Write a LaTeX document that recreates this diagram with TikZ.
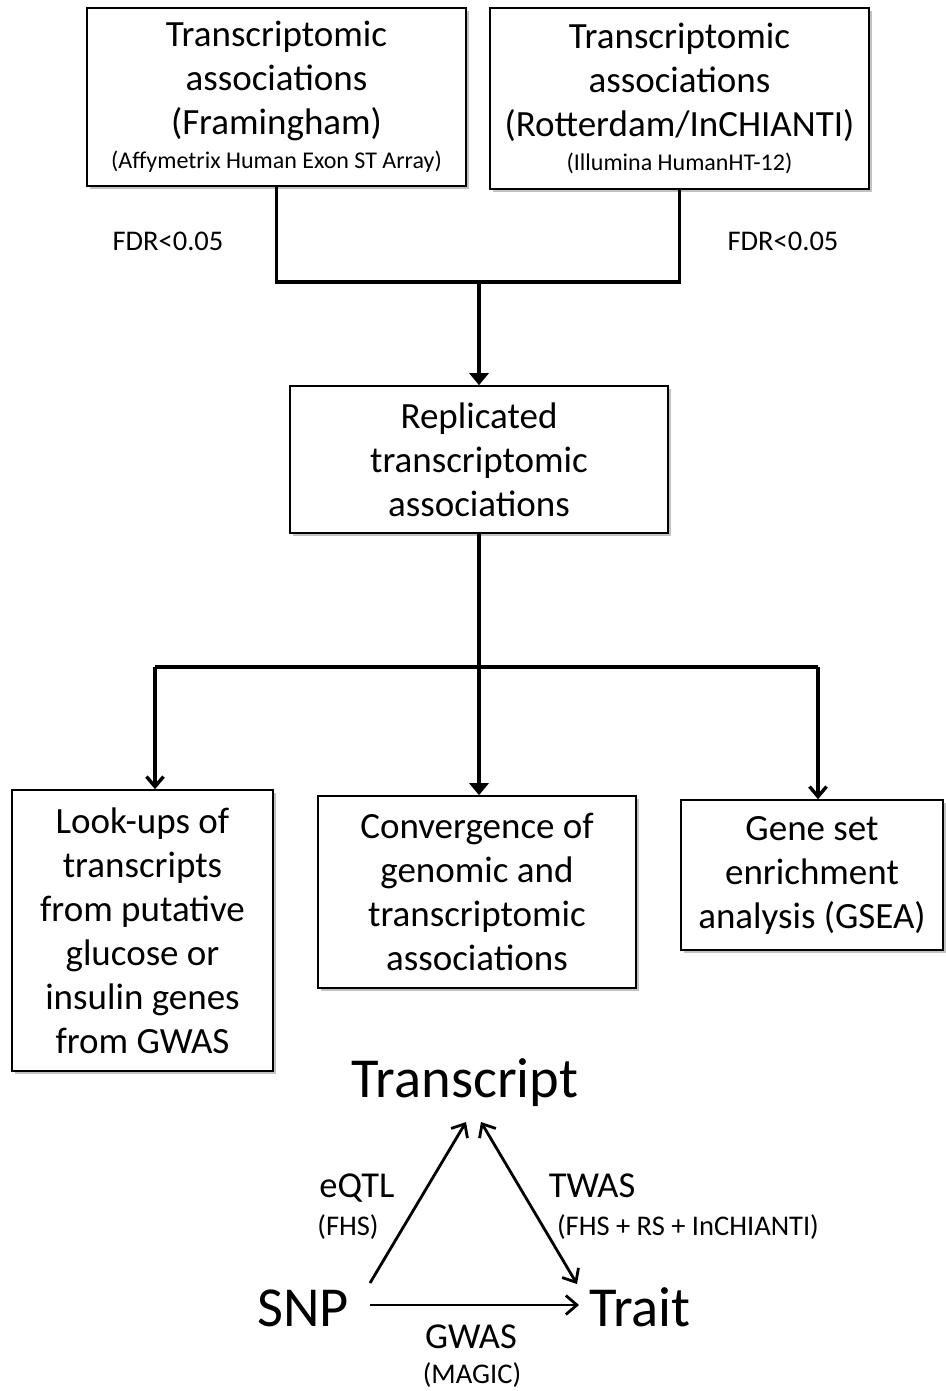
\documentclass[tikz,border=0pt]{standalone}
\usepackage{fontspec}
\setmainfont{Carlito}
\usetikzlibrary{arrows.meta,shadows}
\begin{document}
\begin{tikzpicture}[x=1pt,y=-1pt,
  box/.style={draw=black,line width=1.6pt,fill=white,align=center,inner sep=0pt,
    font=\fontsize{37}{44}\selectfont,
    drop shadow={shadow xshift=3pt,shadow yshift=-3pt,fill=black!60,opacity=.4}},
  flow/.style={line width=3.4pt},
  filltip/.style={flow,-{Triangle[length=12pt,width=19pt]}},
  opentip/.style={flow,-{Straight Barb[length=10pt,width=17pt]}},
  big/.style={font=\fontsize{56.5}{60}\selectfont,anchor=base,inner sep=0pt},
  lab/.style={font=\fontsize{36.5}{40}\selectfont,anchor=base,inner sep=0pt},
  sub/.style={font=\fontsize{28.5}{32}\selectfont,anchor=base,inner sep=0pt},
  fdr/.style={font=\fontsize{28.5}{32}\selectfont,inner sep=0pt},
  tri/.style={line width=2.8pt},
]
\useasboundingbox (0,0) rectangle (945,1391);

% top boxes
\node[box,minimum width=379pt,minimum height=178pt] (b1) at (276.5,97)
  {Transcriptomic\\associations\\(Framingham)\\[-10pt]{\fontsize{24}{28}\selectfont (Affymetrix Human Exon ST Array)}};
\node[box,minimum width=379pt,minimum height=181pt] (b2) at (679.5,98.5)
  {Transcriptomic\\associations\\(Rotterdam/InCHIANTI)\\[-10pt]{\fontsize{24}{28}\selectfont (Illumina HumanHT-12)}};

\node[fdr] (f1) at (168,241) {FDR<0.05};
\node[fdr] (f2) at (783,241) {FDR<0.05};

% replicated
\node[box,minimum width=378pt,minimum height=147pt] (b3) at (479,459.5)
  {Replicated\\transcriptomic\\associations};

% bottom row
\node[box,minimum width=261pt,minimum height=281pt] (b4) at (142.5,930.5)
  {Look-ups of\\transcripts\\from putative\\glucose or\\insulin genes\\from GWAS};
\node[box,minimum width=318pt,minimum height=192pt] (b5) at (477,892)
  {Convergence of\\genomic and\\transcriptomic\\associations};
\node[box,minimum width=262pt,minimum height=150pt] (b6) at (812,875)
  {Gene set\\enrichment\\analysis (GSEA)};

% connectors top
\coordinate (jm) at (479,282);
\draw[flow] (b1.south) -- (b1.south |- jm) -- (b2.south |- jm) -- (b2.south);
\draw[filltip] (jm) -- (b3.north);

% connectors middle
\coordinate (jl) at (155,667);
\coordinate (jr) at (818,667);
\draw[flow] (jl) -- (jr);
\draw[filltip] (b3.south) -- (b3.south |- b5.north);
\draw[opentip] (jl) -- (jl |- b4.north);
\draw[opentip] (jr) -- (jr |- b6.north);

% triangle diagram
\node[big] (tr) at (465,1097) {Transcript};
\node[big] (snp) at (303,1326) {SNP};
\node[big] (trait) at (640,1326) {Trait};

\coordinate (s1) at (370,1283);
\coordinate (t1) at (466,1122);
\coordinate (t2) at (481,1122);
\coordinate (r1) at (577,1284);
\coordinate (s2) at (370,1305);
\coordinate (r2) at (579,1305);
\draw[tri,-{Straight Barb[length=11pt,width=19pt]}] (s1) -- (t1);
\draw[tri,{Straight Barb[length=11pt,width=19pt]}-{Straight Barb[length=11pt,width=19pt]}] (t2) -- (r1);
\draw[tri,-{Straight Barb[length=11pt,width=19pt]}] (s2) -- (r2);

\node[lab] (eq) at (357,1197) {eQTL};
\node[sub] (eqs) at (348,1235) {(FHS)};
\node[lab] (tw) at (592,1197) {TWAS};
\node[sub] (tws) at (688,1235) {(FHS + RS + InCHIANTI)};
\node[lab] (gw) at (471,1348) {GWAS};
\node[sub] (gws) at (472,1383) {(MAGIC)};
\end{tikzpicture}
\end{document}
